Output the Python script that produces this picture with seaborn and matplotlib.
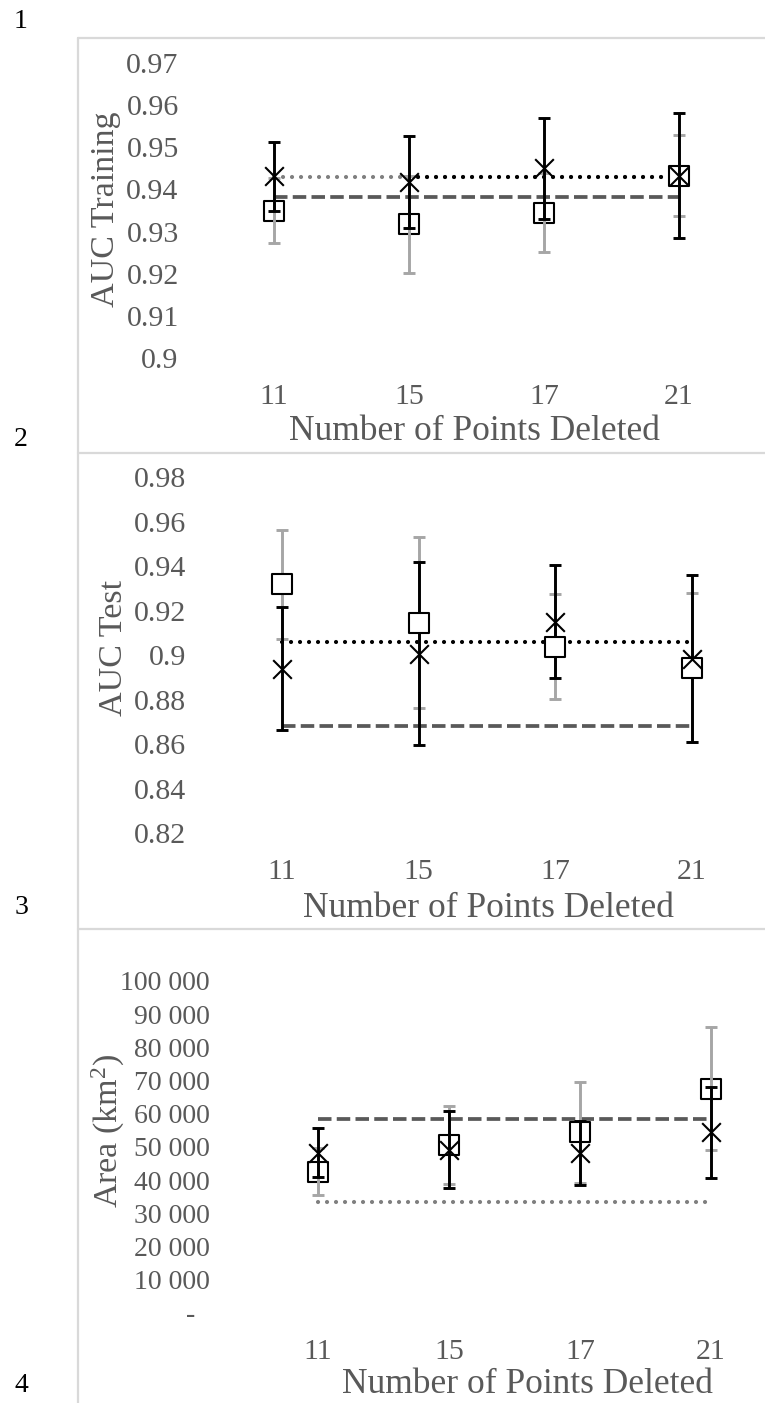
import matplotlib
matplotlib.use("Agg")
import matplotlib.pyplot as plt
from matplotlib.lines import Line2D
from matplotlib.ticker import FuncFormatter
import seaborn as sns
import numpy as np

# ---------------- data ----------------
categories = ["11", "15", "17", "21"]

train_x_mean = [0.9431, 0.9417, 0.9450, 0.9433]
train_x_err = [0.0081, 0.0109, 0.0119, 0.0149]
train_sq_mean = [0.9350, 0.9317, 0.9345, 0.9433]
train_sq_err = [0.0076, 0.0115, 0.0093, 0.0097]
train_dashed = 0.9383
train_dotted = 0.9430

test_x_mean = [0.8939, 0.9006, 0.9150, 0.8984]
test_x_err = [0.0277, 0.0410, 0.0255, 0.0375]
test_sq_mean = [0.9317, 0.9146, 0.9038, 0.8943]
test_sq_err = [0.0243, 0.0385, 0.0235, 0.0335]
test_dashed = 0.8682
test_dotted = 0.9060

area_x_mean = [48300, 49200, 48300, 54400]
area_x_err = [7300, 11500, 9600, 13600]
area_sq_mean = [42600, 50700, 54400, 67600]
area_sq_err = [7200, 11800, 15300, 18600]
area_dashed = 58300
area_dotted = 33300

train_ticks = [0.90, 0.91, 0.92, 0.93, 0.94, 0.95, 0.96, 0.97]
test_ticks = [0.82, 0.84, 0.86, 0.88, 0.90, 0.92, 0.94, 0.96, 0.98]
area_ticks = [0, 10000, 20000, 30000, 40000, 50000, 60000, 70000, 80000, 90000, 100000]

row_labels = ["1", "2", "3", "4"]

# ---------------- style ----------------
sns.set_theme(style="white")
plt.rcParams["font.family"] = ["Liberation Serif", "DejaVu Serif"]
plt.rcParams["mathtext.fontset"] = "custom"
plt.rcParams["mathtext.rm"] = "Liberation Serif"
plt.rcParams["mathtext.it"] = "Liberation Serif:italic"

W, H = 765, 1403
fig = plt.figure(figsize=(W / 100, H / 100), dpi=100)
fig.patch.set_facecolor("white")

TXT = "#595959"
GRAY_BAR = "#a6a6a6"
DASH_C = "#595959"
DOT_GRAY = "#7f7f7f"


def axes_box(left, right, top, bottom):
    return [left / W, 1 - bottom / H, (right - left) / W, (bottom - top) / H]


def draw_panel(ax, xm, xe, sm, se, dashed, dotted_specs, ylim, yticks, fmt,
               ylabel, tick_fs, ypad, xpad, xlab_xy, ylab_xy, sq_on_top):
    # reference lines
    sns.lineplot(x=categories, y=[dashed] * len(categories), ax=ax, color=DASH_C,
                 lw=2.7, zorder=2, sort=False)
    ax.lines[-1].set_dashes((3.6, 1.4))
    for cats, val, col in dotted_specs:
        sns.lineplot(x=cats, y=[val] * len(cats), ax=ax, color=col, lw=3.0,
                     zorder=2, sort=False)
        ln = ax.lines[-1]
        ln.set_dashes((0.01, 2.15))
        ln.set_dash_capstyle("round")
    sq_z = 6 if sq_on_top else 3
    # gray error bars (square series)
    ax.errorbar(categories, sm, yerr=se, fmt="none", ecolor=GRAY_BAR, elinewidth=2.1,
                capsize=4.5, capthick=2.1, zorder=4)
    # squares
    sns.scatterplot(x=categories, y=sm, ax=ax, marker="s", s=210, color="white",
                    edgecolor="black", linewidth=1.5, zorder=sq_z)
    # black error bars (cross series)
    ax.errorbar(categories, xm, yerr=xe, fmt="none", ecolor="black", elinewidth=2.1,
                capsize=4.5, capthick=2.1, zorder=5)
    # crosses
    sns.scatterplot(x=categories, y=xm, ax=ax, marker="x", s=180, color="black",
                    linewidth=1.5, zorder=7)

    ax.set_xlim(-0.5, len(categories) - 0.5)
    ax.set_ylim(*ylim)
    ax.set_yticks(yticks)
    ax.yaxis.set_major_formatter(FuncFormatter(fmt))
    for s in ax.spines.values():
        s.set_visible(False)
    ax.tick_params(axis="y", length=0, pad=ypad, labelsize=tick_fs, labelcolor=TXT)
    ax.tick_params(axis="x", length=0, pad=xpad, labelsize=21.5, labelcolor=TXT)
    ax.set_xlabel("Number of Points Deleted", fontsize=25.5, color=TXT, va="baseline")
    ax.xaxis.set_label_coords(*xlab_xy)
    ax.set_ylabel(ylabel, fontsize=24.5, color=TXT, va="center", ha="center")
    ax.yaxis.set_label_coords(*ylab_xy)
    ax.grid(False)
    ax.set_facecolor("none")


def fmt_auc(v, pos):
    s = f"{v:.2f}"
    if s.endswith("0"):
        s = s[:-1]
    return s


def fmt_area(v, pos):
    if v == 0:
        return "-  "
    return f"{int(v):,}".replace(",", " ")


ax1 = fig.add_axes(axes_box(206.5, 746.5, 63, 358))
draw_panel(ax1, train_x_mean, train_x_err, train_sq_mean, train_sq_err, train_dashed,
           [(categories, train_dotted, DOT_GRAY), (categories[1:], train_dotted, "black")],
           (0.90, 0.97), train_ticks, fmt_auc, "AUC Training", 21.5, 20, 19,
           (0.497, -0.278), (-0.186, 0.505), False)

ax2 = fig.add_axes(axes_box(213.7, 760.3, 477, 833))
draw_panel(ax2, test_x_mean, test_x_err, test_sq_mean, test_sq_err, test_dashed,
           [(categories, test_dotted, "black")],
           (0.82, 0.98), test_ticks, fmt_auc, "AUC Test", 21.5, 20, 19,
           (0.502, -0.236), (-0.182, 0.52), True)

ax3 = fig.add_axes(axes_box(252.5, 776.5, 981, 1313))
draw_panel(ax3, area_x_mean, area_x_err, area_sq_mean, area_sq_err, area_dashed,
           [(categories, area_dotted, DOT_GRAY)],
           (0, 100000), area_ticks, fmt_area, "Area (km$^{2}$)", 20, 31, 19,
           (0.524, -0.241), (-0.274, 0.548), False)

# spreadsheet-like frame lines
BORDER = "#d9d9d9"
for yy in [38, 453, 929]:
    fig.add_artist(Line2D([78 / W, 1.0], [1 - yy / H, 1 - yy / H], color=BORDER, lw=1.6))
fig.add_artist(Line2D([78 / W, 78 / W], [1 - 38 / H, 0.0], color=BORDER, lw=1.6))

for lab, yy in zip(row_labels, [22, 440, 907, 1386]):
    fig.text(21 / W, 1 - yy / H, lab, fontsize=20, color="black", ha="center", va="center")

fig.savefig("out.png", dpi=100, facecolor="white")
